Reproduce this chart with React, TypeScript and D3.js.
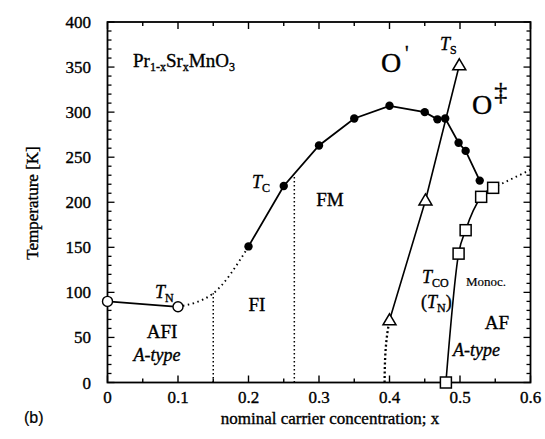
import React from "react";
import * as d3 from "d3";

const W = 545, H = 439;
const xTicksMajor = [0, 0.1, 0.2, 0.3, 0.4, 0.5, 0.6];
const xTickLabels = ["0", "0.1", "0.2", "0.3", "0.4", "0.5", "0.6"];
const yTicksMajor = [0, 50, 100, 150, 200, 250, 300, 350, 400];

// T_C (filled circles)
const tcX = [0.2, 0.25, 0.3, 0.35, 0.4, 0.45, 0.468, 0.479, 0.498, 0.508, 0.528];
const tcT = [151, 218, 263, 293, 307, 300, 292, 293, 266, 257, 224];
// T_N (open circles)
const tnX = [0, 0.1];
const tnT = [90, 84];
// dotted extension of T_N to T_C
const tnDotX = [0.1, 0.15, 0.2];
const tnDotT = [84, 99, 151];
// T_S (triangles)
const tsX = [0.4, 0.451, 0.499];
const tsT = [69, 202, 352];
const tsDotX = [0.393, 0.394, 0.397, 0.4];
const tsDotT = [0, 30, 55, 69];
// T_CO (squares)
const tcoX = [0.48, 0.498, 0.508, 0.53, 0.547];
const tcoT = [0, 143, 169, 206, 216];
const afDotX = [0.547, 0.6];
const afDotT = [216, 236];
// vertical phase boundaries
const vX = [0.15, 0.265];
const vTop = [99, 228];

const x = d3.scaleLinear().domain([0, 0.6]).range([107.5, 530.5]);
const y = d3.scaleLinear().domain([0, 400]).range([382.5, 22]);

const serif = "'Liberation Serif', 'Times New Roman', serif";

function pts(xs: number[], ts: number[]): [number, number][] {
  return xs.map((v, i) => [v, ts[i]]);
}

export default function App() {
  const lineLin = d3.line<[number, number]>().x(d => x(d[0])).y(d => y(d[1]));
  const lineMX = d3.line<[number, number]>().x(d => x(d[0])).y(d => y(d[1])).curve(d3.curveMonotoneX);
  const lineMY = d3.line<[number, number]>().x(d => x(d[0])).y(d => y(d[1])).curve(d3.curveMonotoneY);

  const xMinor = d3.range(0, 0.6001, 0.05);
  const yMinor = d3.range(0, 400.01, 10);
  const x0 = x(0), x1 = x(0.6), y0 = y(0), y1 = y(400);

  const tri = (cx: number, cy: number) => {
    const s = 6.5;
    return `M${cx},${cy - s} L${cx + s},${cy + s * 0.7} L${cx - s},${cy + s * 0.7} Z`;
  };

  return (
    <svg width={W} height={H} style={{ position: "absolute", left: 0, top: 0, background: "#fff" }}
      fontFamily={serif}>
      <rect x={0} y={0} width={W} height={H} fill="#fff" />
      {/* frame */}
      <rect x={x0} y={y1} width={x1 - x0} height={y0 - y1} fill="none" stroke="#000" strokeWidth={1.8} />
      {/* x ticks */}
      {xMinor.map((v, i) => {
        const major = Math.abs(v * 10 - Math.round(v * 10)) < 1e-6;
        const L = major ? 7 : 4;
        return (
          <g key={"xt" + i}>
            <line x1={x(v)} x2={x(v)} y1={y0} y2={y0 - L} stroke="#000" strokeWidth={1.4} />
            <line x1={x(v)} x2={x(v)} y1={y1} y2={y1 + L} stroke="#000" strokeWidth={1.4} />
          </g>
        );
      })}
      {/* y ticks */}
      {yMinor.map((v, i) => {
        const major = v % 50 === 0;
        const L = major ? 7 : 4;
        return (
          <g key={"yt" + i}>
            <line x1={x0} x2={x0 + L} y1={y(v)} y2={y(v)} stroke="#000" strokeWidth={1.3} />
            <line x1={x1} x2={x1 - L} y1={y(v)} y2={y(v)} stroke="#000" strokeWidth={1.3} />
          </g>
        );
      })}
      <g stroke="#000" strokeWidth={0.35}>
        {/* tick labels */}
        {xTicksMajor.map((v, i) => (
          <text key={"xl" + i} x={x(v)} y={403} fontSize={17} textAnchor="middle">{xTickLabels[i]}</text>
        ))}
        {yTicksMajor.map((v, i) => (
          <text key={"yl" + i} x={91} y={y(v) + 6} fontSize={17} textAnchor="end">{String(v)}</text>
        ))}
        {/* axis titles */}
        <text x={330} y={424} fontSize={17} textAnchor="middle">nominal carrier concentration; x</text>
        <text transform={`translate(38,203) rotate(-90)`} fontSize={17} textAnchor="middle">Temperature [K]</text>
        <text x={24} y={423} fontSize={16} strokeWidth={0.2} fontFamily="'Liberation Sans', Arial, sans-serif">(b)</text>
      </g>

      {/* dotted boundaries */}
      {vX.map((v, i) => (
        <line key={"v" + i} x1={x(v)} x2={x(v)} y1={y0} y2={y(vTop[i])} stroke="#000" strokeWidth={1.5} strokeDasharray="1.5,2.5" />
      ))}
      <path d={lineMX(pts(tnDotX, tnDotT)) || ""} fill="none" stroke="#000" strokeWidth={1.9} strokeDasharray="1.5,3.5" />
      <path d={lineMY(pts(tsDotX, tsDotT)) || ""} fill="none" stroke="#000" strokeWidth={2.3} strokeDasharray="2,2.5" />
      <path d={lineLin(pts(afDotX, afDotT)) || ""} fill="none" stroke="#000" strokeWidth={1.9} strokeDasharray="1.5,3.5" />

      {/* solid lines */}
      <path d={lineLin(pts(tcX, tcT)) || ""} fill="none" stroke="#000" strokeWidth={1.8} />
      <path d={lineLin(pts(tnX, tnT)) || ""} fill="none" stroke="#000" strokeWidth={1.8} />
      <path d={lineLin(pts(tsX, tsT)) || ""} fill="none" stroke="#000" strokeWidth={1.6} />
      <path d={lineMX(pts(tcoX, tcoT)) || ""} fill="none" stroke="#000" strokeWidth={1.6} />

      {/* markers */}
      {tcX.map((v, i) => (
        <circle key={"tc" + i} cx={x(v)} cy={y(tcT[i])} r={4.2} fill="#000" />
      ))}
      {tnX.map((v, i) => (
        <circle key={"tn" + i} cx={x(v)} cy={y(tnT[i])} r={5} fill="#fff" stroke="#000" strokeWidth={1.4} />
      ))}
      {tsX.map((v, i) => (
        <path key={"ts" + i} d={tri(x(v), y(tsT[i]))} fill="#fff" stroke="#000" strokeWidth={1.5} />
      ))}
      {tcoX.map((v, i) => (
        <rect key={"sq" + i} x={x(v) - 5.5} y={y(tcoT[i]) - 5.5} width={11} height={11} fill="#fff" stroke="#000" strokeWidth={1.5} />
      ))}

      {/* labels */}
      <g stroke="#000" strokeWidth={0.35}>
        <text x={133} y={67} fontSize={19}>
          Pr<tspan fontSize={12} dy={4}>1-x</tspan><tspan dy={-4}>Sr</tspan><tspan fontSize={12} dy={4}>x</tspan><tspan dy={-4}>MnO</tspan><tspan fontSize={12} dy={4}>3</tspan>
        </text>
        <text x={381} y={72} fontSize={28}>O</text>
        <text x={405} y={60} fontSize={20}>'</text>
        <text x={440} y={50} fontSize={18} fontStyle="italic">T<tspan fontSize={12} fontStyle="normal" dy={4}>S</tspan></text>
        <text x={472} y={114} fontSize={28}>O<tspan fontSize={26} dx={2} dy={-14}>‡</tspan></text>

        <text x={252} y={188} fontSize={18} fontStyle="italic">T<tspan fontSize={12} fontStyle="normal" dy={4}>C</tspan></text>
        <text x={155} y={298} fontSize={18} fontStyle="italic">T<tspan fontSize={12} fontStyle="normal" dy={4}>N</tspan></text>
        <text x={330} y={206} fontSize={19} textAnchor="middle">FM</text>
        <text x={257} y={311} fontSize={19} textAnchor="middle">FI</text>
        <text x={162} y={338} fontSize={19} textAnchor="middle">AFI</text>
        <text x={157} y={361} fontSize={18} fontStyle="italic" textAnchor="middle">A-type</text>

        <text x={422} y={283} fontSize={18} fontStyle="italic">T<tspan fontSize={12} fontStyle="normal" dy={4}>CO</tspan></text>
        <text x={466} y={286} fontSize={13} strokeWidth={0.2}>Monoc.</text>
        <text x={421} y={308} fontSize={18}>(<tspan fontStyle="italic">T</tspan><tspan fontSize={12} dy={4}>N</tspan><tspan dy={-4}>)</tspan></text>
        <text x={497} y={329} fontSize={19} textAnchor="middle">AF</text>
        <text x={453} y={356} fontSize={18} fontStyle="italic">A-type</text>
      </g>
    </svg>
  );
}
